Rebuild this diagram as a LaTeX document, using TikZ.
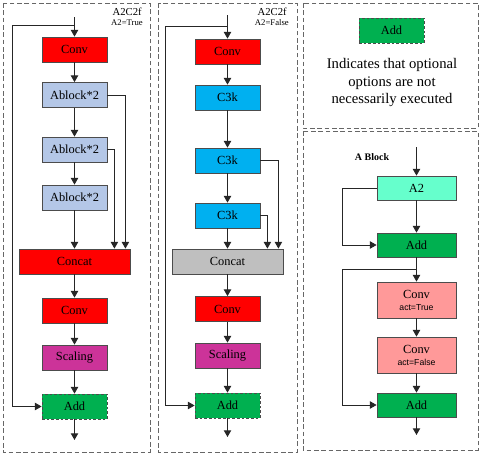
\documentclass[tikz,border=0pt]{standalone}
\usepackage{fontspec}
\setmainfont{Liberation Serif}
\newfontfamily\actfont{Liberation Sans}
\usetikzlibrary{positioning,arrows.meta}

\definecolor{convred}{HTML}{FF0000}
\definecolor{ablockblue}{HTML}{B4C7E7}
\definecolor{cthreekblue}{HTML}{00B0F0}
\definecolor{concatgray}{HTML}{BFBFBF}
\definecolor{scalingpink}{HTML}{CC3399}
\definecolor{addgreen}{HTML}{00B050}
\definecolor{atwocyan}{HTML}{66FFCC}
\definecolor{convpink}{HTML}{FF9999}

\newcommand{\actlabel}[1]{{\actfont\fontsize{6.5}{7.5}\selectfont #1}}

\begin{document}
\begin{tikzpicture}[
  x=0.75pt, y=-0.75pt,
  layerbox/.style={
    rectangle, draw=black!70, line width=0.6pt,
    minimum width=48.75pt, minimum height=18.75pt, inner sep=0pt,
    align=center, font=\fontsize{9.3}{10}\selectfont
  },
  widebox/.style={layerbox, minimum width=83.25pt},
  ablockbox/.style={layerbox, minimum width=59.25pt, minimum height=18pt},
  actbox/.style={layerbox, minimum width=59.25pt, minimum height=27pt, fill=convpink},
  optadd/.style={layerbox, fill=addgreen, dash pattern=on 2pt off 1.5pt},
  panel/.style={draw=black!60, line width=0.6pt, dash pattern=on 3.5pt off 2pt},
  flow/.style={-{Triangle[length=5pt,width=5.5pt]}, line width=0.7pt, black!85},
  link/.style={line width=0.7pt, black!85},
  tag/.style={anchor=east, inner sep=0pt}
]
\useasboundingbox (0,0) rectangle (480,457);

% Panels
\draw[panel] (3,3) rectangle (150,452);
\draw[panel] (158,3) rectangle (297,452);
\draw[panel] (303,3) rectangle (478,128);
\draw[panel] (303,131) rectangle (478,450);

% A2C2f, A2=True
\node[tag, font=\fontsize{8}{9}\selectfont] (ttl1) at (142,12) {A2C2f};
\node[tag, font=\fontsize{6.5}{7}\selectfont] (opt1) at (143,23) {A2=True};

\node[layerbox, fill=convred] (conv1) at (74.5,49.5) {Conv};
\node[layerbox, fill=ablockblue] (abl1) at (74.5,95) {Ablock*2};
\node[layerbox, fill=ablockblue] (abl2) at (74.5,149.5) {Ablock*2};
\node[layerbox, fill=ablockblue] (abl3) at (74.5,197.5) {Ablock*2};
\node[widebox, fill=convred] (cat1) at (74.5,261.5) {Concat};
\node[layerbox, fill=convred] (conv1b) at (74.5,310.5) {Conv};
\node[layerbox, fill=scalingpink] (scl1) at (74.5,357.5) {Scaling};
\node[optadd] (add1) at (74.5,406.5) {Add};

\coordinate (in1) at (74.5,17);
\coordinate (split1) at (74.5,25);
\coordinate (byp1) at (12,25);
\coordinate (out1) at (74.5,440);

\draw[flow] (in1) -- (conv1);
\draw[link] (split1) -- (byp1);
\draw[flow] (byp1) |- (add1);
\draw[flow] (conv1) -- (abl1);
\draw[flow] (abl1) -- (abl2);
\draw[flow] (abl2) -- (abl3);
\draw[flow] (abl3) -- (cat1);
\draw[flow] (abl1.east) -| ([xshift=-3.75pt]cat1.north east);
\draw[flow] (abl2.east) -| ([xshift=-12pt]cat1.north east);
\draw[flow] (cat1) -- (conv1b);
\draw[flow] (conv1b) -- (scl1);
\draw[flow] (scl1) -- (add1);
\draw[flow] (add1) -- (out1);

% A2C2f, A2=False
\node[tag, font=\fontsize{8}{9}\selectfont] (ttl2) at (287,12) {A2C2f};
\node[tag, font=\fontsize{6.5}{7}\selectfont] (opt2) at (289,23) {A2=False};

\node[layerbox, fill=convred] (conv2) at (227.5,51.5) {Conv};
\node[layerbox, fill=cthreekblue] (ck1) at (227.5,97.5) {C3k};
\node[layerbox, fill=cthreekblue] (ck2) at (227.5,160.5) {C3k};
\node[layerbox, fill=cthreekblue] (ck3) at (227.5,215.5) {C3k};
\node[widebox, fill=concatgray] (cat2) at (227.5,261.5) {Concat};
\node[layerbox, fill=convred] (conv2b) at (227.5,309) {Conv};
\node[layerbox, fill=scalingpink] (scl2) at (227.5,355.5) {Scaling};
\node[optadd] (add2) at (227.5,405.5) {Add};

\coordinate (in2) at (227.5,15);
\coordinate (split2) at (227.5,26);
\coordinate (byp2) at (165,26);
\coordinate (out2) at (227.5,437);

\draw[flow] (in2) -- (conv2);
\draw[link] (split2) -- (byp2);
\draw[flow] (byp2) |- (add2);
\draw[flow] (conv2) -- (ck1);
\draw[flow] (ck1) -- (ck2);
\draw[flow] (ck2) -- (ck3);
\draw[flow] (ck3) -- (cat2);
\draw[flow] (ck2.east) -| ([xshift=-3.75pt]cat2.north east);
\draw[flow] (ck3.east) -| ([xshift=-12pt]cat2.north east);
\draw[flow] (cat2) -- (conv2b);
\draw[flow] (conv2b) -- (scl2);
\draw[flow] (scl2) -- (add2);
\draw[flow] (add2) -- (out2);

% Legend
\node[optadd] (legadd) at (391.5,30.5) {Add};
\node[align=center, font=\fontsize{11}{13.1}\selectfont] (legtxt) at (392,82.5)
  {Indicates that optional\\options are not\\necessarily executed};

% A Block
\node[font=\bfseries\fontsize{7.5}{8}\selectfont] (ablk) at (372,157) {A Block};

\node[ablockbox, fill=atwocyan] (atwo) at (416.5,188) {A2};
\node[ablockbox, fill=addgreen] (addb1) at (416.5,245) {Add};
\node[actbox] (cvt) at (416.5,300) {Conv\\[-1pt]\actlabel{act=True}};
\node[actbox] (cvf) at (416.5,355) {Conv\\[-1pt]\actlabel{act=False}};
\node[ablockbox, fill=addgreen] (addb2) at (416.5,405) {Add};

\coordinate (in4) at (416.5,147);
\coordinate (byp4a) at (342,188);
\coordinate (split4) at (416.5,269);
\coordinate (byp4b) at (342,269);
\coordinate (out4) at (416.5,435);

\draw[flow] (in4) -- (atwo);
\draw[flow] (atwo) -- (addb1);
\draw[link] (atwo.west) -- (byp4a);
\draw[flow] (byp4a) |- (addb1);
\draw[flow] (addb1) -- (cvt);
\draw[link] (split4) -- (byp4b);
\draw[flow] (byp4b) |- (addb2);
\draw[flow] (cvt) -- (cvf);
\draw[flow] (cvf) -- (addb2);
\draw[flow] (addb2) -- (out4);

\end{tikzpicture}
\end{document}
